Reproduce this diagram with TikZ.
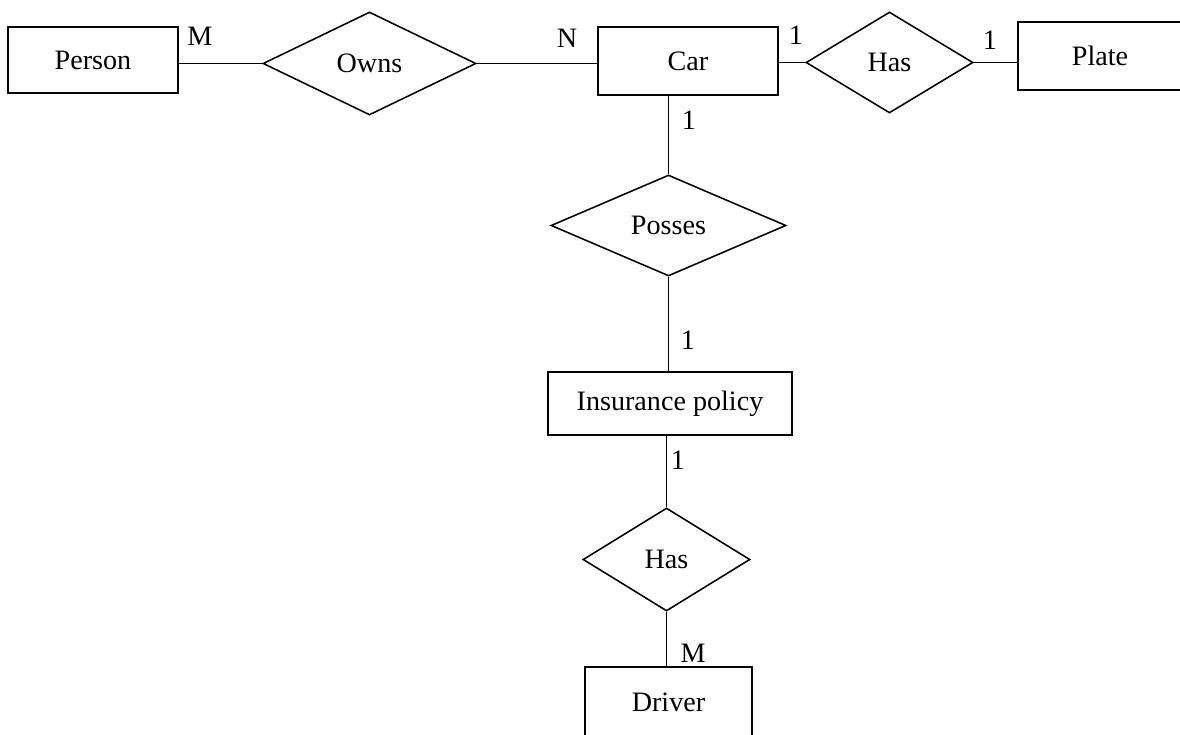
\documentclass[tikz,border=0pt]{standalone}
\usepackage{fontspec}
\setmainfont{Liberation Serif}
\usetikzlibrary{shapes.geometric}

\tikzset{
    entity/.style={draw, line width=1.1pt, rectangle, inner sep=0pt},
    relation/.style={draw, line width=1.1pt, diamond, inner sep=0pt, aspect=2},
    card/.style={inner sep=0pt, font=\fontsize{20}{24}\selectfont},
    link/.style={line width=1.1pt}
}

\begin{document}
\begin{tikzpicture}[x=0.025cm, y=-0.025cm, font=\fontsize{20}{24}\selectfont]
        \useasboundingbox (0, 0) rectangle (1180, 735);

        % entities
        \node[entity, minimum width=4.25cm, minimum height=1.65cm] (person) at (93, 60) {Person};
        \node[entity, minimum width=4.5cm, minimum height=1.7cm] (car) at (688, 61) {Car};
        \node[entity, minimum width=4.1cm, minimum height=1.7cm] (plate) at (1100, 56) {Plate};
        \node[entity, minimum width=6.1cm, minimum height=1.575cm] (policy) at (670, 403.5) {Insurance policy};
        \node[entity, minimum width=4.175cm, minimum height=1.75cm] (driver) at (668.5, 702) {Driver};

        % relations
        \node[relation, minimum width=5.325cm, minimum height=2.575cm] (owns) at (369.5, 63.5) {Owns};
        \node[relation, minimum width=4.175cm, minimum height=2.525cm] (hasplate) at (889.5, 62.5) {Has};
        \node[relation, minimum width=5.875cm, minimum height=2.525cm] (posses) at (668.5, 225.5) {Posses};
        \node[relation, minimum width=4.175cm, minimum height=2.575cm] (hasdriver) at (666.5, 559.5) {Has};

        % connectors
        \draw[link] (owns.west) -- (owns.west -| person.east);
        \draw[link] (owns.east) -- (owns.east -| car.west);
        \draw[link] (hasplate.west) -- (hasplate.west -| car.east);
        \draw[link] (hasplate.east) -- (hasplate.east -| plate.west);
        \draw[link] (posses.north) -- (posses.north |- car.south);
        \draw[link] (posses.south) -- (posses.south |- policy.north);
        \draw[link] (hasdriver.north) -- (hasdriver.north |- policy.south);
        \draw[link] (hasdriver.south) -- (hasdriver.south |- driver.north);

        % cardinalities
        \node[card] (cpo) at (200, 36) {M};
        \node[card] (coc) at (567, 38) {N};
        \node[card] (cch) at (796, 35) {1};
        \node[card] (chp) at (990, 40) {1};
        \node[card] (ccp) at (689, 120) {1};
        \node[card] (cpi) at (688, 340) {1};
        \node[card] (cih) at (678, 460) {1};
        \node[card] (chd) at (693, 653) {M};
    \end{tikzpicture}
\end{document}
